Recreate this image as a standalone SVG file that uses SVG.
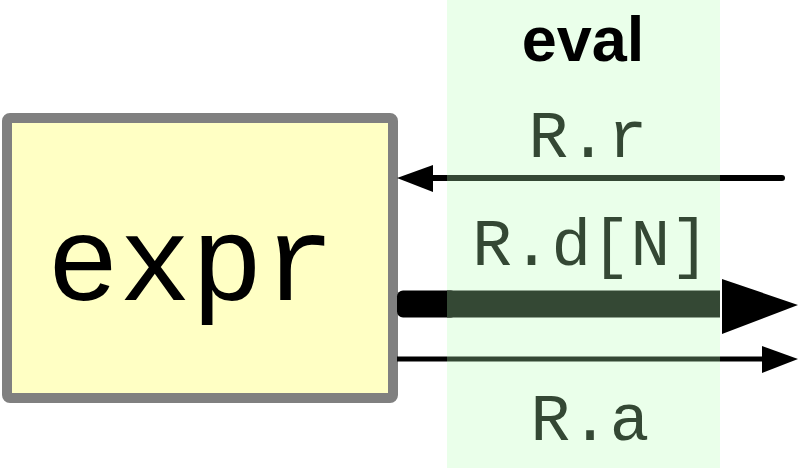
<svg xmlns="http://www.w3.org/2000/svg" width="798" height="468" viewBox="0 0 798 468">
<style>
.mono{font-family:"Courier New","Nimbus Mono PS","FreeMono",Courier,"Liberation Mono",monospace;}
.lbl{font-size:66px;fill:#344834;text-anchor:middle;}
.blk{stroke:#000;fill:none;}
.grn{stroke:#344834;fill:none;}
</style>
<rect id="band" x="447" y="0" width="273" height="468" fill="#eaffea"/>
<g id="expr">
<rect x="7" y="118" width="386" height="280" rx="3" fill="#ffffc4" stroke="#808080" stroke-width="10"/>
<text class="mono" x="191" y="300" font-size="120" text-anchor="middle" fill="#000">expr</text>
</g>
<g id="eval">
<text x="583" y="61" font-family="Liberation Sans, Arial, sans-serif" font-weight="bold" font-size="63" text-anchor="middle" fill="#000">eval</text>
</g>
<g id="connectors">
<!-- R.r -->
<line class="blk" x1="782" y1="178" x2="720" y2="178" stroke-width="6" stroke-linecap="round"/>
<line class="grn" x1="720" y1="178" x2="447" y2="178" stroke-width="6"/>
<line class="blk" x1="447" y1="178" x2="430" y2="178" stroke-width="6"/>
<polygon points="397,178 433,165 433,192" fill="#000"/>
<!-- R.d[N] -->
<rect x="397" y="290.5" width="60" height="27" rx="6" fill="#000"/>
<rect x="447" y="290.5" width="273" height="27" fill="#344834"/>
<polygon points="722,279 798,305 722,334" fill="#000"/>
<!-- R.a -->
<line class="blk" x1="397" y1="359" x2="447" y2="359" stroke-width="5"/>
<line class="grn" x1="447" y1="359" x2="720" y2="359" stroke-width="5"/>
<line class="blk" x1="720" y1="359" x2="766" y2="359" stroke-width="5"/>
<polygon points="798,359 762,346 762,373" fill="#000"/>
</g>
<g id="labels">
<text class="mono lbl" x="588" y="157">R.r</text>
<text class="mono lbl" x="591" y="265">R.d[N]</text>
<text class="mono lbl" x="590" y="440">R.a</text>
</g>
</svg>
